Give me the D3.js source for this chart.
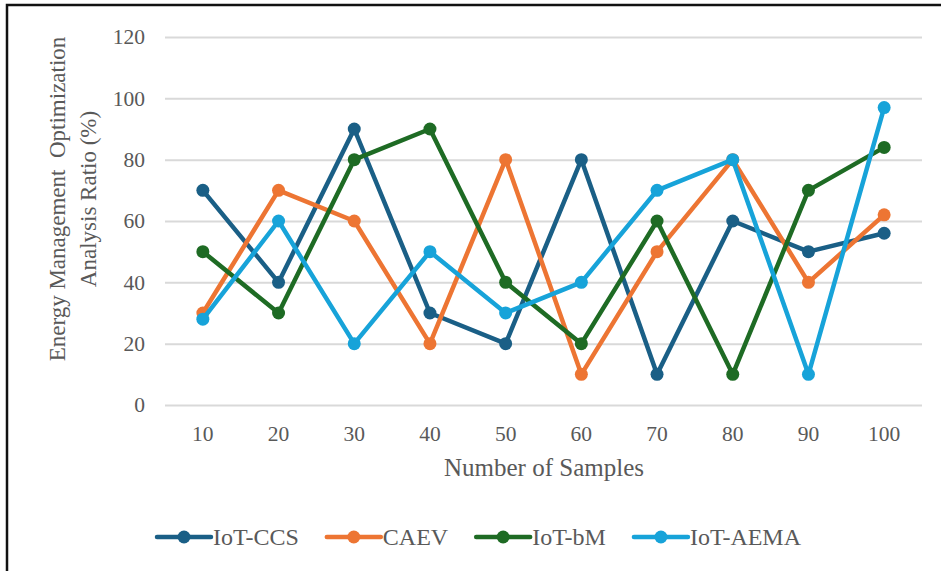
<!DOCTYPE html>
<html>
<head>
<meta charset="utf-8">
<script src="https://cdn.jsdelivr.net/npm/d3@7"></script>
<style>
  body { margin: 0; background: #fff; }
  svg text { font-family: "Liberation Serif", "Times New Roman", serif; }
</style>
</head>
<body>
<div id="chart"></div>
<script>
// chart data
const samples = [10, 20, 30, 40, 50, 60, 70, 80, 90, 100];
const iotCcs  = [70, 40, 90, 30, 20, 80, 10, 60, 50, 56];
const caev    = [30, 70, 60, 20, 80, 10, 50, 80, 40, 62];
const iotBm   = [50, 30, 80, 90, 40, 20, 60, 10, 70, 84];
const iotAema = [28, 60, 20, 50, 30, 40, 70, 80, 10, 97];
const seriesNames = ["IoT-CCS", "CAEV", "IoT-bM", "IoT-AEMA"];
const yTicks = [0, 20, 40, 60, 80, 100, 120];

const serif = "Liberation Serif";
const colors = ["#1a5f86", "#ed7533", "#1e6b24", "#17a3d9"];
const series = [iotCcs, caev, iotBm, iotAema].map((v, i) => ({name: seriesNames[i], values: v, color: colors[i]}));

const width = 941, height = 571;
const margin = ({top: 37, right: 19, bottom: 166, left: 165});

const svg = d3.select("#chart").append("svg")
  .attr("width", width).attr("height", height)
  .attr("font-family", serif);

// outer frame
svg.append("rect")
  .attr("x", 7).attr("y", 5)
  .attr("width", width).attr("height", height)
  .attr("fill", "none").attr("stroke", "#111").attr("stroke-width", 2.5);

const x = d3.scaleBand()
  .domain(samples)
  .range([margin.left, width - margin.right]);

const y = d3.scaleLinear()
  .domain([0, 120])
  .range([height - margin.bottom, margin.top]);

// grid + y labels
const yAxis = g => g
  .attr("transform", `translate(${margin.left},0)`)
  .call(d3.axisLeft(y).tickValues(yTicks).tickSize(-(width - margin.left - margin.right)).tickPadding(20))
  .attr("font-family", serif)
  .call(g => g.select(".domain").remove())
  .call(g => g.selectAll("line").attr("stroke", "#d9d9d9").attr("stroke-width", 2))
  .call(g => g.selectAll("text").attr("fill", "#595959").style("font-size", "21.5px"));

const xAxis = g => g
  .attr("transform", `translate(0,${height - margin.bottom})`)
  .call(d3.axisBottom(x).tickSize(0).tickPadding(21))
  .attr("font-family", serif)
  .call(g => g.select(".domain").remove())
  .call(g => g.selectAll("text").attr("fill", "#595959").style("font-size", "21.5px"));

svg.append("g").call(yAxis);
svg.append("g").call(xAxis);

// axis titles
svg.append("text")
  .attr("x", 544)
  .attr("y", 476)
  .attr("text-anchor", "middle")
  .attr("fill", "#595959")
  .style("font-size", "25px")
  .text("Number of Samples");

const yTitle = svg.append("text")
  .attr("transform", "translate(0,199) rotate(-90)")
  .attr("text-anchor", "middle")
  .attr("fill", "#595959")
  .style("font-size", "23px")
  .style("white-space", "pre");
yTitle.append("tspan").attr("x", 0).attr("y", 65).text("Energy Management  Optimization");
yTitle.append("tspan").attr("x", 0).attr("y", 96).text("Analysis Ratio (%)");

// lines
const line = d3.line()
  .x((d, i) => x(samples[i]) + x.bandwidth() / 2)
  .y(d => y(d));

const sg = svg.append("g").selectAll("g")
  .data(series)
  .join("g");

sg.append("path")
  .attr("d", d => line(d.values))
  .attr("fill", "none")
  .attr("stroke", d => d.color)
  .attr("stroke-width", 4.5)
  .attr("stroke-linejoin", "round");

sg.selectAll("circle")
  .data(d => d.values.map((v, i) => ({v, i, color: d.color})))
  .join("circle")
  .attr("cx", d => x(samples[d.i]) + x.bandwidth() / 2)
  .attr("cy", d => y(d.v))
  .attr("r", 6.5)
  .attr("fill", d => d.color);

// legend
const legend = svg.append("g").attr("transform", "translate(157,537)");
let lx = 0;
series.forEach(s => {
  const item = legend.append("g").attr("transform", `translate(${lx},0)`);
  item.append("line")
    .attr("x1", 0).attr("x2", 54)
    .attr("stroke", s.color).attr("stroke-width", 4.5).attr("stroke-linecap", "round");
  item.append("circle").attr("cx", 27).attr("r", 6.5).attr("fill", s.color);
  const t = item.append("text")
    .attr("x", 56).attr("y", 8)
    .attr("fill", "#595959")
    .style("font-size", "24px")
    .text(s.name);
  lx += 56 + t.node().getComputedTextLength() + 28;
});
</script>
</body>
</html>
